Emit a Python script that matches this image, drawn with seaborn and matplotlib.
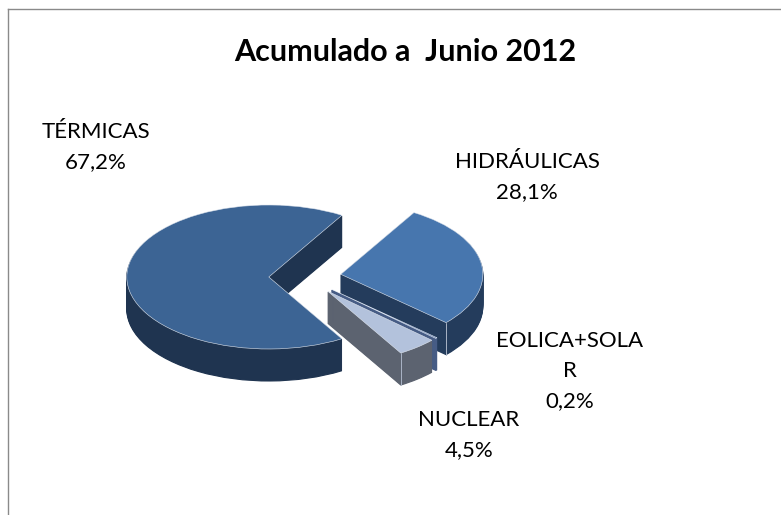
import matplotlib
matplotlib.use('Agg')
import matplotlib.pyplot as plt
import numpy as np
import seaborn as sns

sns.set_theme(style='white')
plt.rcParams['font.family'] = ['Lato', 'DejaVu Sans']

# Data (clockwise from the upper cut)
labels = ['HIDRÁULICAS', 'EOLICA+SOLA\nR', 'NUCLEAR', 'TÉRMICAS']
values = [28.1, 0.2, 4.5, 67.2]
top_colors = ['#4776ae', '#5d7cb0', '#b3c2dc', '#3c6494']
side_colors = ['#243c5c', '#465c85', '#5c6370', '#1f3450']
title = 'Acumulado a  Junio 2012'

W, H = 781, 515
fig = plt.figure(figsize=(W / 100, H / 100), dpi=100)
ax = fig.add_axes([8 / W, 0, 1 - 8 / W, 1 - 9 / H])

DEPTH = 32 / 72  # height of the extrusion, in y units


def draw_slice(i, y0, color, lw=0, ec='none'):
    colors = ['none'] * len(values)
    colors[i] = color
    wedges, _ = ax.pie(values, colors=colors, startangle=59, counterclock=False,
                       explode=[0.255] * len(values), center=(0, y0), radius=1,
                       wedgeprops=dict(linewidth=lw, edgecolor=ec))
    # 'none' wedges must not show their edge
    for j, w in enumerate(wedges):
        if j != i:
            w.set_visible(False)
    return wedges[i]


# back to front so the nearer slices cover the sides of the others
for i in [3, 0, 1, 2]:
    for k in range(32, 0, -1):
        draw_slice(i, -DEPTH * k / 32, side_colors[i], lw=0.8, ec=side_colors[i])
    top = draw_slice(i, 0, top_colors[i], lw=0.4, ec='#dfe6f0')
    # light corner line on the front edge of the two right hand slices
    if i in (0, 2):
        a = np.deg2rad(top.theta1)
        x = top.center[0] + np.cos(a)
        y = top.center[1] + np.sin(a)
        ax.plot([x, x], [y, y - DEPTH], color='#aab4c6', lw=0.7)

ax.set_aspect('auto')
ax.set_xlim((8 - 305) / 142, (W - 305) / 142)
ax.set_ylim((277 - H) / 72, (277 - 9) / 72)

# only the top and left of the chart border are in the picture
ax.set_frame_on(True)
sns.despine(ax=ax, right=True, bottom=True)
for side in ['left', 'top']:
    ax.spines[side].set_visible(True)
    ax.spines[side].set_color('#8a8a8a')
    ax.spines[side].set_linewidth(1)

fig.text(405 / W, 1 - 52 / H, title, ha='center', va='center',
         fontsize=22, fontweight='bold', color='black')

label_centers = [(527, 177), (570, 371), (469, 435), (96, 147)]
for name, val, (px, py) in zip(labels, values, label_centers):
    txt = name + '\n' + f'{val:.1f}%'.replace('.', ',')
    fig.text(px / W, 1 - py / H, txt, ha='center', va='center',
             fontsize=16, linespacing=1.65, color='black')

fig.savefig('out.png', dpi=100)
plt.close(fig)
